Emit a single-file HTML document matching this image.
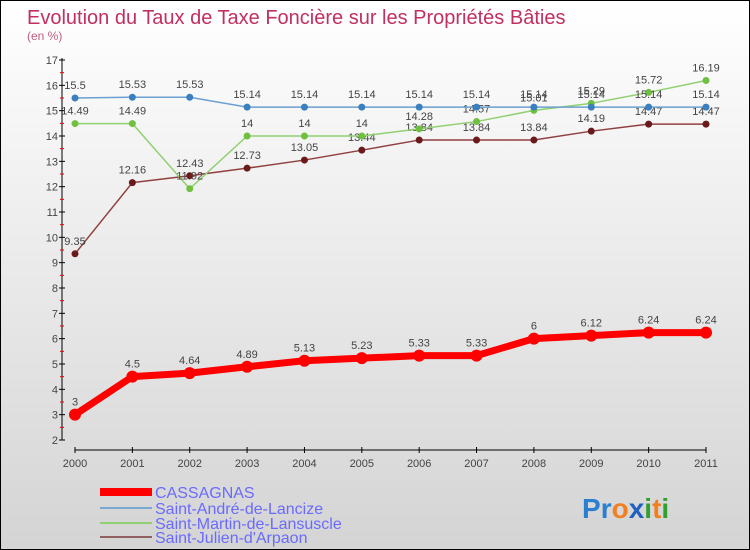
<!DOCTYPE html>
<html><head><meta charset="utf-8"><style>
body{margin:0}
#c{width:750px;height:550px;position:relative;box-sizing:border-box;border:1px solid #000;background:linear-gradient(#fff,#d4d4d4);font-family:"Liberation Sans",sans-serif;overflow:hidden}
</style></head><body>
<div id="c">
<svg id="s" width="750" height="550" style="position:absolute;left:-1px;top:-1px">
<text x="27" y="24" font-size="20" fill="#c03060">Evolution du Taux de Taxe Foncière sur les Propriétés Bâties</text>
<text x="27" y="40" font-size="12" fill="#c06080">(en %)</text>
<g id="ax"></g><g id="ser"></g>
<g>
<rect x="100" y="488" width="52" height="8" fill="#f00"/>
<text x="155" y>=""</text>
<text x="155" y="498" font-size="16" fill="#6a6aff">CASSAGNAS</text>
<line x1="100" y1="508" x2="152" y2="508" stroke="#7aa8d0" stroke-width="2"/>
<text x="155" y="514" font-size="16" fill="#6a6aff">Saint-André-de-Lancize</text>
<line x1="100" y1="523" x2="152" y2="523" stroke="#90d070" stroke-width="2"/>
<text x="155" y="529" font-size="16" fill="#6a6aff">Saint-Martin-de-Lansuscle</text>
<line x1="100" y1="537" x2="152" y2="537" stroke="#906060" stroke-width="2"/>
<text x="155" y="543" font-size="16" fill="#6a6aff">Saint-Julien-d'Arpaon</text>
</g>
<g font-size="28" font-weight="bold">
<text x="582" y="518"><tspan fill="#2a80d0">P</tspan><tspan fill="#2a80d0">r</tspan><tspan fill="#f08020">o</tspan><tspan fill="#2060c0">x</tspan><tspan fill="#30a030">i</tspan><tspan fill="#f08020">t</tspan><tspan fill="#30a030">i</tspan></text>
</g>
</svg>
</div>
<script>
const years=["2000","2001","2002","2003","2004","2005","2006","2007","2008","2009","2010","2011"];
const cassagnas=[3,4.5,4.64,4.89,5.13,5.23,5.33,5.33,6,6.12,6.24,6.24];
const andre=[15.5,15.53,15.53,15.14,15.14,15.14,15.14,15.14,15.14,15.14,15.14,15.14];
const martin=[14.49,14.49,11.92,14,14,14,14.28,14.57,15.01,15.29,15.72,16.19];
const julien=[9.35,12.16,12.43,12.73,13.05,13.44,13.84,13.84,13.84,14.19,14.47,14.47];
const yTicks=[2,3,4,5,6,7,8,9,10,11,12,13,14,15,16,17];
const NS="http://www.w3.org/2000/svg";
const X=i=>75+i*(631/11), Y=v=>440-(v-2)*(380/15);
function mk(t,a,p){const e=document.createElementNS(NS,t);for(const k in a)e.setAttribute(k,a[k]);p.appendChild(e);return e;}
const ax=document.getElementById('ax'), ser=document.getElementById('ser');
let l=mk('line',{x1:62,y1:58,x2:62,y2:440,stroke:'#000'},ax);


yTicks.forEach(v=>{mk('line',{x1:59,x2:65,y1:Y(v),y2:Y(v),stroke:'#000'},ax);
 if(v<17)mk('line',{x1:60,x2:64,y1:Y(v+0.5),y2:Y(v+0.5),stroke:'#e00'},ax);
 const t=mk('text',{x:58,y:Y(v)+4,'text-anchor':'end','font-size':11,fill:'#444'},ax);t.textContent=v;
 
 });
l=mk('line',{x1:75,y1:450,x2:706,y2:450,stroke:'#000'},ax);


years.forEach((y,i)=>{mk('line',{x1:X(i),x2:X(i),y1:447,y2:453,stroke:'#000'},ax);
 const t=mk('text',{x:X(i),y:467,'text-anchor':'middle','font-size':11,fill:'#444'},ax);t.textContent=y;
 
 });
function series(d,col,dot,w,r,name){
 const g=mk('g',{},ser);
 
 
 mk('polyline',{points:d.map((v,i)=>X(i)+','+Y(v)).join(' '),fill:'none',stroke:col,'stroke-width':w,'stroke-linejoin':'round'},g);
 d.forEach((v,i)=>{const c=mk('circle',{cx:X(i),cy:Y(v),r:r,fill:dot},g);
  
  
  const t=mk('text',{x:X(i),y:Y(v)-9,'text-anchor':'middle','font-size':11,fill:'#444'},g);t.textContent=v;
  
  });
}
series(julien,'#904040','#6a1a1a',1.5,3.5,'series-julien');
series(martin,'#90d070','#70c040',1.5,3.5,'series-martin');
series(andre,'#6ca0d0','#3a80c0',1.5,3.5,'series-andre');
series(cassagnas,'#f00','#f00',7,6,'series-cassagnas');
</script>
</body></html>
